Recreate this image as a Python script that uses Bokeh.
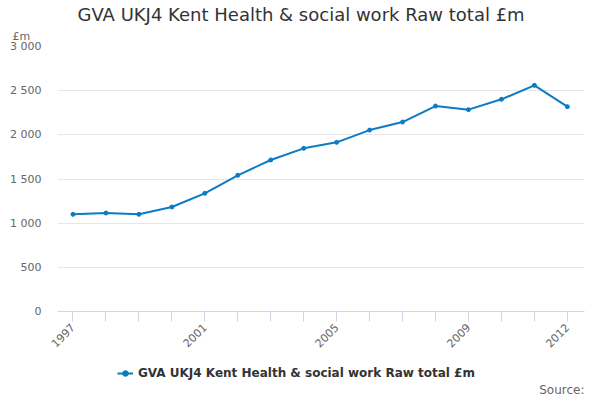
from math import pi

from bokeh.embed import file_html
from bokeh.layouts import column
from bokeh.models import ColumnDataSource, FixedTicker, Label, Legend, LegendItem, Range1d, Title
from bokeh.plotting import figure
from bokeh.resources import INLINE

# datos
anios = list(range(1997, 2013))
valores = [1100, 1115, 1100, 1183, 1338, 1542, 1715, 1847,
           1915, 2054, 2145, 2326, 2285, 2402, 2560, 2319]
titulo = "GVA UKJ4 Kent Health & social work Raw total £m"
ticks_y = [0, 500, 1000, 1500, 2000, 2500, 3000]
etiquetas_y = ["0", "500", "1 000", "1 500", "2 000", "2 500", "3 000"]
anios_con_etiqueta = [1997, 2001, 2005, 2009, 2012]

azul = "#0b7bc5"
gris = "#666666"
fuente = "DejaVu Sans"

p = figure(frame_width=527, frame_height=265, output_backend="svg", toolbar_location=None,
           x_range=Range1d(1996.53, 2012.52), y_range=Range1d(0, 3000),
           min_border_left=57, min_border_right=16, min_border_top=46, min_border_bottom=0)
p.outline_line_color = None
p.background_fill_color = "white"

fuente_datos = ColumnDataSource(data=dict(x=anios, y=valores))
linea = p.line("x", "y", source=fuente_datos, line_color=azul, line_width=2)
puntos = p.scatter("x", "y", source=fuente_datos, size=4, fill_color=azul, line_color=azul)

# eje y
p.yaxis.ticker = FixedTicker(ticks=ticks_y)
p.yaxis.major_label_overrides = {t: e for t, e in zip(ticks_y, etiquetas_y)}
p.yaxis.axis_line_color = None
p.yaxis.major_tick_line_color = None
p.yaxis.major_tick_out = 0
p.yaxis.minor_tick_line_color = None
p.yaxis.major_label_standoff = 16
p.yaxis.major_label_text_color = gris
p.yaxis.major_label_text_font = fuente
p.yaxis.major_label_text_font_size = "11px"
p.ygrid.grid_line_color = "#e6e6e6"
p.ygrid.ticker = FixedTicker(ticks=ticks_y)

# eje x
p.xaxis.ticker = FixedTicker(ticks=anios)
p.xaxis.major_label_overrides = {a: (str(a) if a in anios_con_etiqueta else "") for a in anios}
p.xaxis.major_label_orientation = pi / 4
p.xaxis.axis_line_color = "#ccd6eb"
p.xaxis.major_tick_line_color = "#ccd6eb"
p.xaxis.major_tick_in = 0
p.xaxis.major_tick_out = 10
p.xaxis.minor_tick_line_color = None
p.xaxis.major_label_text_color = gris
p.xaxis.major_label_text_font = fuente
p.xaxis.major_label_text_font_size = "11px"
p.xaxis.major_label_standoff = 4
p.xgrid.grid_line_color = None

# textos de arriba (el primero queda junto al area del grafico)
p.add_layout(Title(text="£m", align="left", offset=-45, standoff=7,
                   text_font=fuente, text_font_size="11px", text_color=gris,
                   text_font_style="normal"), "above")
p.add_layout(Title(text=titulo, align="left", offset=20, standoff=0,
                   text_font=fuente, text_font_size="18px", text_color="#333333",
                   text_font_style="normal"), "above")

# franja de abajo: leyenda y fuente (el column alinea sus bordes con los de p)
q = figure(width=600, height=47, output_backend="svg", toolbar_location=None,
           x_range=Range1d(0, 527), y_range=Range1d(0, 47),
           x_axis_type=None, y_axis_type=None, min_border=0)
q.outline_line_color = None
q.grid.visible = False
linea_q = q.line("x", "y", source=fuente_datos, line_color=azul, line_width=2, visible=False)
puntos_q = q.scatter("x", "y", source=fuente_datos, size=4, fill_color=azul, line_color=azul,
                     visible=False)

leyenda = Legend(items=[LegendItem(label=titulo, renderers=[linea_q, puntos_q])],
                 location=(60, 20), orientation="horizontal",
                 label_text_font=fuente, label_text_font_style="bold",
                 label_text_font_size="12px", label_text_color="#333333",
                 glyph_width=16, glyph_height=14, label_height=14,
                 label_standoff=5, padding=0, margin=0, inactive_fill_alpha=0,
                 border_line_color=None, background_fill_alpha=0)
q.add_layout(leyenda)
q.add_layout(Label(x=527, y=11, x_units="screen", y_units="screen", text="Source:",
                   text_font=fuente, text_font_size="12px", text_color=gris,
                   text_align="right", text_baseline="middle"))

open("out.html", "w").write(file_html(column(p, q, spacing=0), INLINE))
